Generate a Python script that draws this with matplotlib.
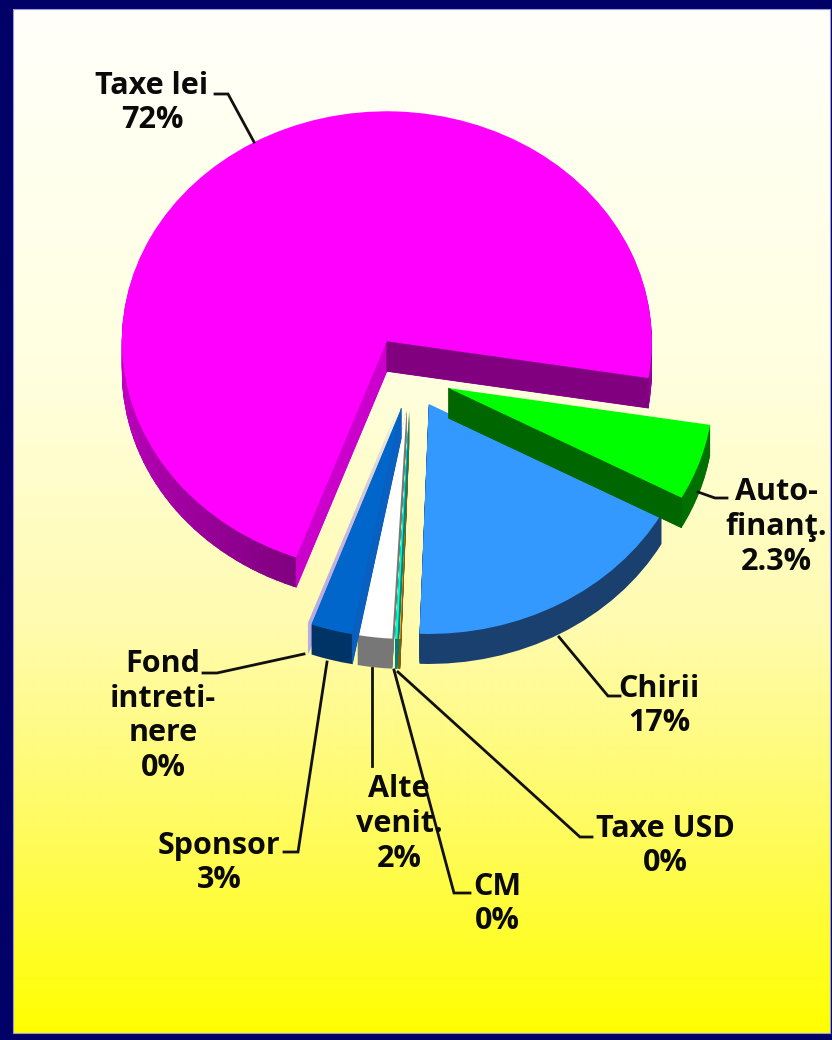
'''Pie chart with exploded slices and a fake 3D rim, on a white to yellow panel'''

import numpy as np
import matplotlib
matplotlib.use('Agg')
import matplotlib.pyplot as plt
from matplotlib.colors import LinearSegmentedColormap, to_rgb
from matplotlib.patches import Polygon, Rectangle

WIDTH = 832
HEIGHT = 1040

# going clockwise from the lower left edge of the big slice
names = ['Taxe lei', 'Auto-\nfinanţ.', 'Chirii', 'Taxe USD', 'CM',
         'Alte\nvenit.', 'Sponsor', 'Fond\nintreti-\nnere']
printed_shares = ['72%', '2.3%', '17%', '0%', '0%', '2%', '3%', '0%']
# angles as drawn, the green slice is drawn bigger than its printed share
drawn_shares = [72, 5.35, 17.65, 0.15, 0.15, 2.1, 2.55, 0.05]
explode = [0.18, 0.15, 0.135, 0.14, 0.14, 0.14, 0.14, 0.14]

top_colors = ['#FF00FF', '#00FF00', '#3399FF', '#FFB020', '#00FFCC',
              '#FFFFFF', '#0066CC', '#B8A8E8']
rim_colors = ['#990099', '#007000', '#1A4070', '#806010', '#008080',
              '#777777', '#003366', '#B8A8E8']
draw_order = [0, 2, 1, 3, 4, 5, 7, 6]

# cut edges that face the viewer: slice index, edge, colour
cut_faces = [(0, 'theta2', '#CC00CC'), (0, 'theta1', '#800080'),
             (1, 'theta1', '#006600'), (6, 'theta2', '#0A60C0')]

#-------- label centres and leader lines, in pixels of the picture --------
label_pos = [(152, 103), (776, 527), (659, 706), (665, 846),
             (497, 904), (399, 824), (219, 863), (163, 716)]
leaders = [[(215, 94), (228, 94), (254, 142)],
           [(698, 492), (715, 498), (727, 498)],
           [(559, 637), (608, 696), (620, 696)],
           [(398, 672), (580, 837), (592, 837)],
           [(394, 670), (454, 893), (470, 893)],
           [(372, 668), (372, 766)],
           [(327, 662), (298, 852), (284, 852)],
           [(304, 654), (217, 673), (203, 673)]]

plt.rcParams['font.family'] = ['Open Sans', 'DejaVu Sans']

figure = plt.figure(figsize=(WIDTH / 100, HEIGHT / 100), dpi=100, facecolor='#000066')

#----------------- Background panel ------------
ax_back = figure.add_axes([0, 0, 1, 1])
ax_back.axis('off')
panel_cmap = LinearSegmentedColormap.from_list(
    'panel', [(0, '#FFFFFA'), (0.35, '#FFFFE0'), (0.6, '#FFFBB0'),
              (0.8, '#FFFB60'), (1, '#FFFF00')])
ax_back.imshow(np.linspace(0, 1, 512)[:, None], cmap=panel_cmap, aspect='auto',
               extent=(13, 830, 1033, 9), interpolation='bilinear')
ax_back.add_patch(Rectangle((13, 9), 817, 1024, fill=False,
                            edgecolor='#9999DD', linewidth=0.8))
ax_back.set_xlim(0, WIDTH)
ax_back.set_ylim(HEIGHT, 0)

#----------------- Pie, one layer per pixel of depth ------------
RX = 265
RY = 230
CX = 411
CY = 377
DEPTH = 30

ax = figure.add_axes([0, 0, 1, 1])
ax.patch.set_alpha(0)
dd = DEPTH / RY

for layer in range(DEPTH + 1):
    colors = top_colors if layer == DEPTH else rim_colors
    offset = (DEPTH - layer) / RY
    wedges, _ = ax.pie(drawn_shares, explode=explode, colors=colors,
                       startangle=250, counterclock=False,
                       center=(0, -offset), wedgeprops={'linewidth': 0})
    for ii, wedge in enumerate(wedges):
        wedge.set_zorder(draw_order.index(ii) * 100 + layer)

# wedges of the top layer give the place of each side wall
for ii, attr, color in cut_faces:
    wedge = wedges[ii]
    xc, yc = wedge.center
    tt = np.deg2rad(getattr(wedge, attr))
    xe, ye = xc + np.cos(tt), yc + np.sin(tt)
    ax.add_patch(Polygon([(xc, yc), (xe, ye), (xe, ye - dd), (xc, yc - dd)],
                         facecolor=color, edgecolor=color, linewidth=0.6,
                         zorder=draw_order.index(ii) * 100 + DEPTH - 0.5))

# the rim of the big slice gets darker towards its lower end
big = wedges[0]
xc, yc = big.center
rim_a = np.array(to_rgb('#CC00CC'))
rim_b = np.array(to_rgb('#800080'))
thetas = np.arange(175, big.theta2, 2.0)
for tt in thetas:
    frac = (tt - thetas[0]) / (thetas[-1] - thetas[0])
    t0 = np.deg2rad(tt)
    t1 = np.deg2rad(min(tt + 2.6, big.theta2))
    xa, ya = xc + np.cos(t0), yc + np.sin(t0)
    xb, yb = xc + np.cos(t1), yc + np.sin(t1)
    ax.add_patch(Polygon([(xa, ya), (xb, yb), (xb, yb - dd), (xa, ya - dd)],
                         facecolor=rim_a + (rim_b - rim_a) * frac, linewidth=0,
                         zorder=draw_order.index(0) * 100 + DEPTH - 1))

ax.set_aspect('auto')
ax.set_xlim(-CX / RX, (WIDTH - CX) / RX)
ax.set_ylim((CY - HEIGHT) / RY, CY / RY)

#----------------- Labels ------------
ax_top = figure.add_axes([0, 0, 1, 1])
ax_top.patch.set_alpha(0)
ax_top.set_xlim(0, WIDTH)
ax_top.set_ylim(HEIGHT, 0)
ax_top.axis('off')

for ii, name in enumerate(names):
    xs = [p[0] for p in leaders[ii]]
    ys = [p[1] for p in leaders[ii]]
    ax_top.plot(xs, ys, color='#111111', linewidth=2.0, solid_joinstyle='miter')
    ax_top.text(label_pos[ii][0], label_pos[ii][1],
                '{}\n{}'.format(name, printed_shares[ii]),
                ha='center', va='center', ma='center',
                fontsize=22, fontweight='bold', color='#0A0A0A',
                linespacing=1.2)

figure.savefig('out.png', dpi=100, facecolor=figure.get_facecolor())
